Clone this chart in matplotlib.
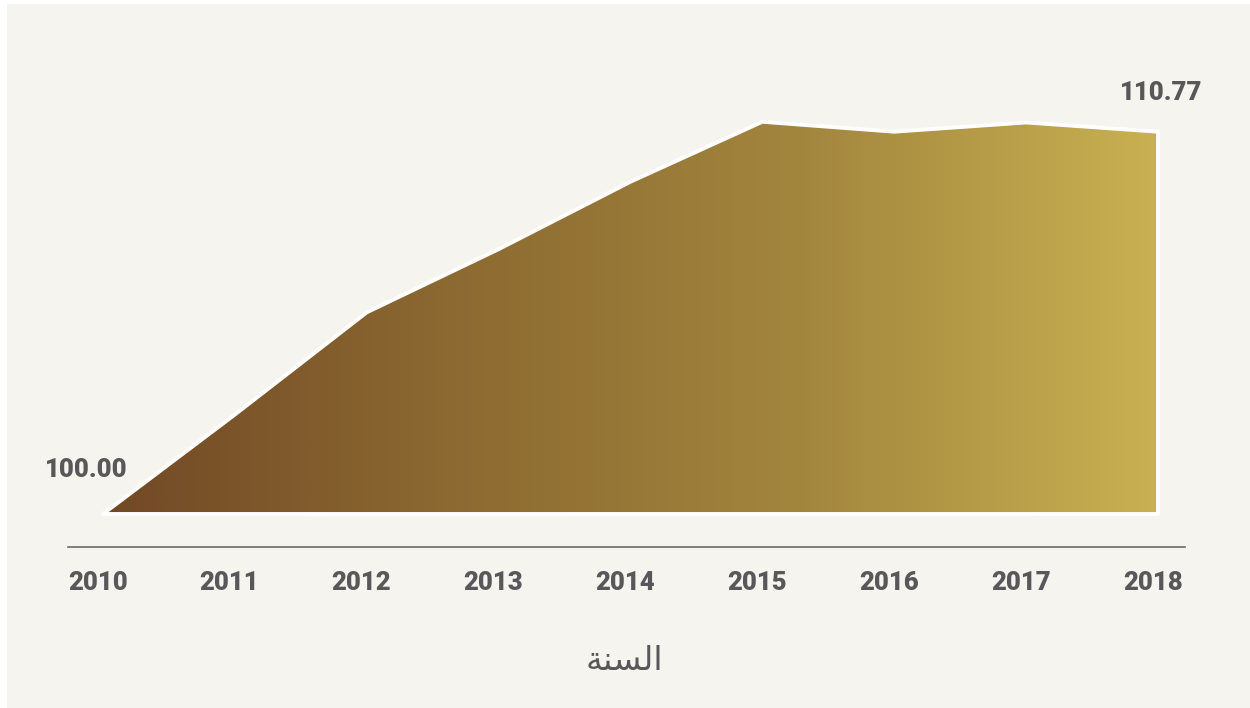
import matplotlib
matplotlib.use("Agg")
import matplotlib.pyplot as plt
import numpy as np
from matplotlib.colors import LinearSegmentedColormap
from matplotlib.patches import Rectangle

years = [2010, 2011, 2012, 2013, 2014, 2015, 2016, 2017, 2018]
values = [100.00, 102.80, 105.68, 107.46, 109.36, 111.05, 110.77, 111.03, 110.77]
tick_labels = [str(y) for y in years]
first_label = "100.00"
last_label = "110.77"
# "السنة" in shaped presentation forms, visual order
xlabel = "\uFE94\uFEE8\uFEB4\uFEDF\uFE8D"

W, H = 1250, 708
fig = plt.figure(figsize=(W / 100, H / 100), dpi=100, facecolor="white")
fig.patches.append(Rectangle((7 / W, 0), 1, 1 - 4 / H, transform=fig.transFigure,
                             facecolor="#f5f4ef", edgecolor="none", zorder=-10))

ax = fig.add_axes([68 / W, (H - 547) / H, (1185 - 68) / W, (547 - 60) / H])
ax.set_facecolor("none")
ax.set_xlim(2009.735, 2018.205)
ax.set_ylim(99.07, 112.79)

base = 100.0
poly = ax.fill_between(years, values, base, facecolor="none", edgecolor="none")
cmap = LinearSegmentedColormap.from_list("g", ["#724826", "#8c6a31", "#a3863e", "#c9b152"])
grad = np.linspace(0, 1, 512).reshape(1, -1)
im = ax.imshow(grad, cmap=cmap, aspect="auto", extent=[years[0], years[-1], base, max(values) + 1],
               origin="lower", zorder=1)
im.set_clip_path(poly.get_paths()[0], transform=ax.transData)
ax.fill_between(years, values, base, facecolor="none", edgecolor="white", linewidth=2.8,
                zorder=2)

for s in ["top", "right", "left"]:
    ax.spines[s].set_visible(False)
ax.spines["bottom"].set_color("#6b6b6b")
ax.spines["bottom"].set_linewidth(1.2)
ax.spines["bottom"].set_position(("data", 99.07))
ax.set_yticks([])
ax.set_xticks([y - 0.04 for y in years])
ax.set_xticklabels(tick_labels, fontfamily="Roboto", fontweight="heavy", fontsize=18.5,
                   color="#58585a")
ax.tick_params(axis="x", length=0, pad=17)

ax.text(2010.19, 101.24, first_label, ha="right", va="center",
        fontfamily="Roboto", fontweight="heavy", fontsize=18.5, color="#58585a")
ax.text(2018.34, values[-1] + 1.08, last_label, ha="right", va="center",
        fontfamily="Roboto", fontweight="heavy", fontsize=18.5, color="#58585a")

fig.text(624 / W, (H - 660) / H, xlabel, ha="center", va="center",
         fontfamily=["DejaVu Sans"], fontsize=24, color="#58585a")

fig.savefig("out.png", dpi=100, facecolor="white")
